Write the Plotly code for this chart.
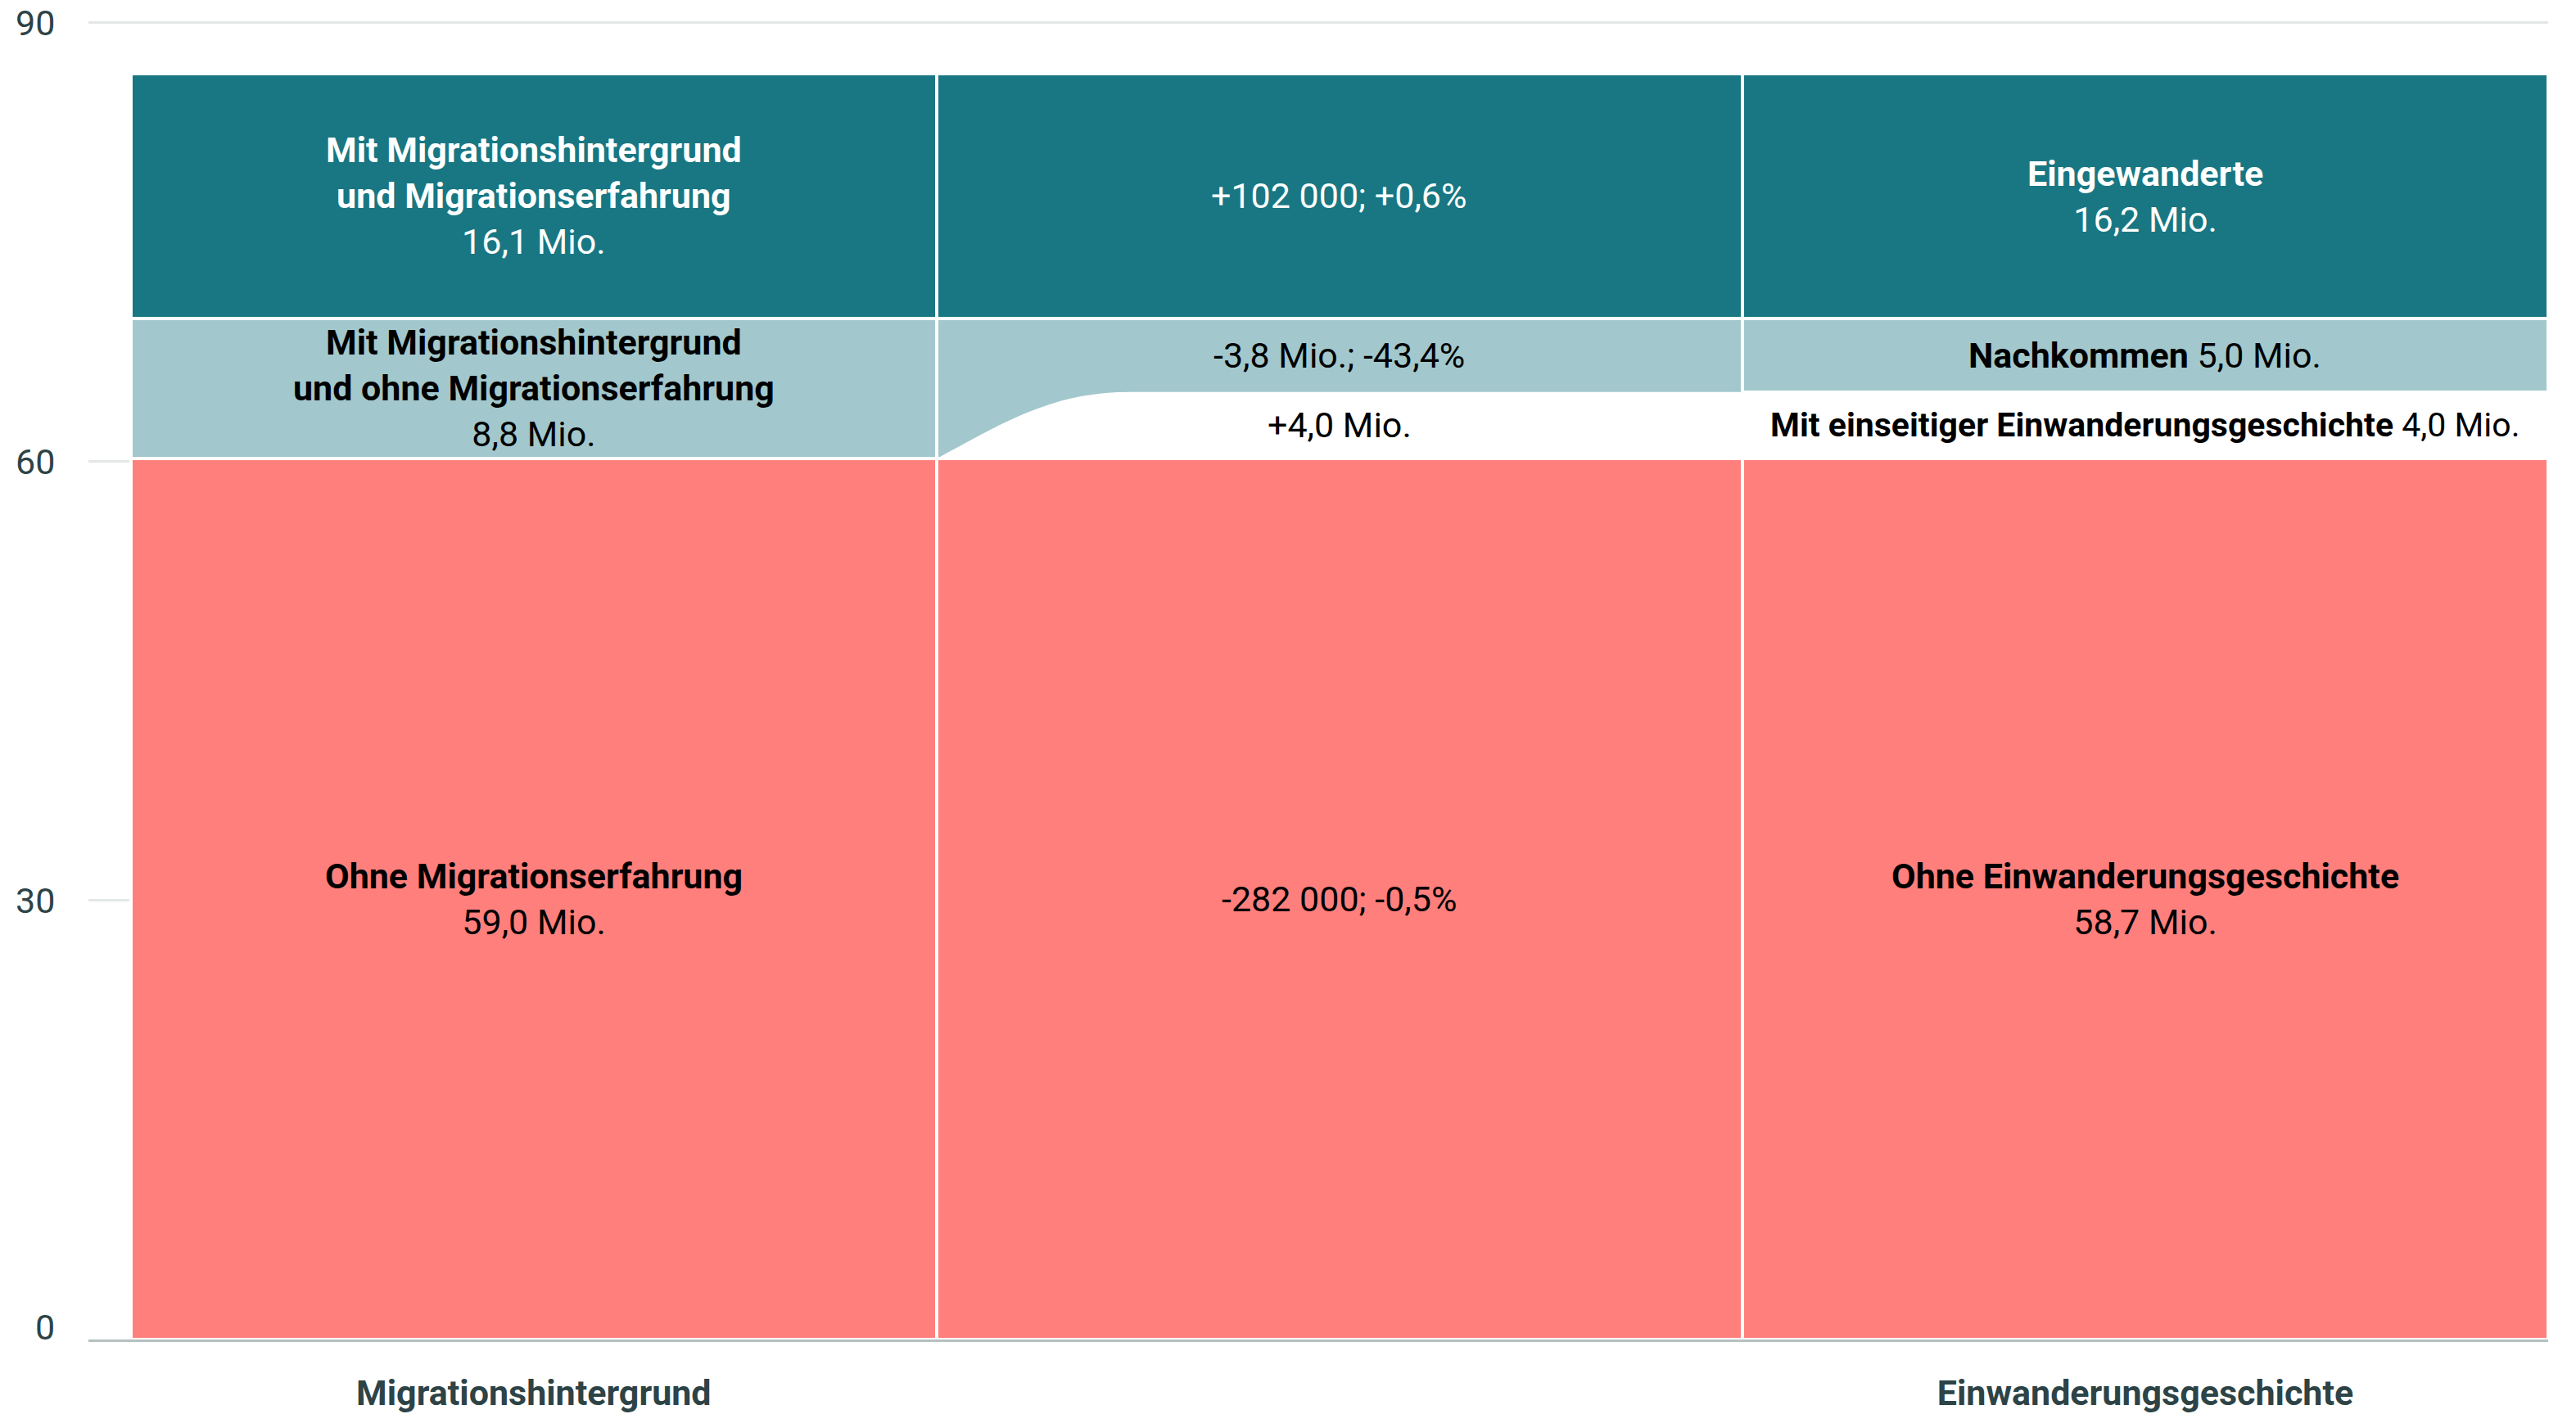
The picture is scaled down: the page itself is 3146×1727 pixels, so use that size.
import plotly.graph_objects as go

# ---------------- data ----------------
x_pos = [0, 1, 2]
x_tick_labels = ["<b>Migrationshintergrund</b>", "", "<b>Einwanderungsgeschichte</b>"]
y_ticks = [0, 30, 60, 90]
y_tick_labels = ["0", "30", "60", "90"]

# segment heights as drawn (Mio.)
red_vals = [60.2, 60.2, 60.2]        # Ohne Migrationserfahrung / Ohne Einwanderungsgeschichte
white_vals = [None, None, 4.55]      # Mit einseitiger Einwanderungsgeschichte
lb_vals = [9.6, 9.6, 5.03]           # ohne Migrationserfahrung / Nachkommen
teal_vals = [16.7, 16.7, 16.7]       # Migrationserfahrung / Eingewanderte

red_labels = ["<b>Ohne Migrationserfahrung</b><br>59,0 Mio.",
              "-282 000; -0,5%",
              "<b>Ohne Einwanderungsgeschichte</b><br>58,7 Mio."]
white_labels = [None, "+4,0 Mio.", "<b>Mit einseitiger Einwanderungsgeschichte</b> 4,0 Mio."]
lb_labels = ["<b>Mit Migrationshintergrund</b><br><b>und ohne Migrationserfahrung</b><br>8,8 Mio.",
             "-3,8 Mio.; -43,4%",
             "<b>Nachkommen</b> 5,0 Mio."]
teal_labels = ["<b>Mit Migrationshintergrund</b><br><b>und Migrationserfahrung</b><br>16,1 Mio.",
               "+102 000; +0,6%",
               "<b>Eingewanderte</b><br>16,2 Mio."]

# ---------------- style ----------------
TEAL = "#187782"
LB = "#a2c8cd"
RED = "#fe7f7c"
TXT = "#2d4346"
FONT = "Roboto"
FS = 43

fig = go.Figure()
for vals, col in [(red_vals, RED), (white_vals, "#ffffff"), (lb_vals, LB), (teal_vals, TEAL)]:
    fig.add_trace(go.Bar(
        x=x_pos, y=vals, width=1, marker=dict(color=col, line=dict(color="white", width=4.5)),
        hoverinfo="skip", showlegend=False))

# middle column: white region under curved lower boundary of the light-blue band
y0 = red_vals[1]
y1 = red_vals[2] + white_vals[2]
xa = 0.5
xb = 0.5 + 0.24
dx = xb - xa
dy = y1 - y0
path = (f"M {xa},{y0} C {xa + 0.35*dx},{y0 + 0.55*dy} {xa + 0.6*dx},{y1} {xb},{y1} "
        f"L 1.5,{y1} L 1.5,{y0} Z")
fig.add_shape(type="path", path=path, xref="x", yref="y", fillcolor="white",
              line=dict(width=0), layer="above")

# labels
def add_labels(labels, bottoms, heights, color, sizes=None):
    for i, (lab, b, h) in enumerate(zip(labels, bottoms, heights)):
        if lab is None:
            continue
        fs = sizes[i] if sizes else FS
        fig.add_annotation(x=x_pos[i], y=b + h / 2, text=lab, showarrow=False,
                           font=dict(family=FONT, size=fs, color=color),
                           xanchor="center", yanchor="middle", align="center")

zero = [0, 0, 0]
red_top = [r for r in red_vals]
white_h = [0, y1 - y0, white_vals[2]]
lb_bottom = [red_vals[0], y1, red_vals[2] + white_vals[2]]
lb_h = [lb_vals[0], red_vals[1] + lb_vals[1] - y1, lb_vals[2]]
teal_bottom = [red_vals[0] + lb_vals[0], red_vals[1] + lb_vals[1], red_vals[2] + white_vals[2] + lb_vals[2]]

add_labels(red_labels, zero, red_vals, "#000000")
add_labels(white_labels, red_top, white_h, "#000000", sizes=[FS, FS, 41])
add_labels(lb_labels, lb_bottom, lb_h, "#000000")
add_labels(teal_labels, teal_bottom, teal_vals, "#ffffff")

# y tick labels (the 0 label sits above the baseline)
for v, t in zip(y_ticks, y_tick_labels):
    fig.add_annotation(xref="paper", x=0, y=v, yref="y", text=t, showarrow=False,
                       xanchor="right", yanchor="middle", xshift=-40,
                       yshift=15 if v == 0 else 0, borderpad=0,
                       font=dict(family=FONT, size=43, color=TXT))

fig.update_layout(
    width=3138, height=1719,
    margin=dict(l=100, r=34, t=16, b=91),
    paper_bgcolor="white", plot_bgcolor="white",
    barmode="stack", bargap=0,
    font=dict(family=FONT, color=TXT),
    xaxis=dict(range=[-0.5526, 2.5], tickvals=x_pos, ticktext=x_tick_labels,
               showgrid=False, zeroline=False, showline=True, linecolor="#b6c0c1",
               linewidth=3, layer="above traces", ticks="", automargin=False,
               tickfont=dict(family=FONT, size=FS, color=TXT), ticklabelstandoff=25),
    yaxis=dict(range=[0, 90.2], tickvals=y_ticks, showgrid=True, gridcolor="#e3e7e7",
               gridwidth=3, zeroline=False, showline=False, ticks="", automargin=False,
               showticklabels=False),
)

fig.write_html("out.html")
